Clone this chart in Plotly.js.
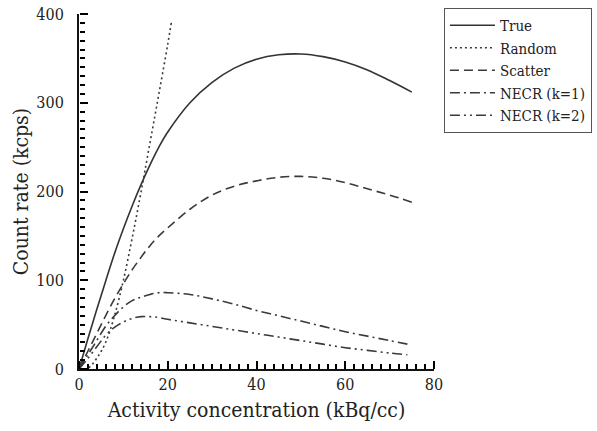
<!DOCTYPE html>
<html>
<head>
<meta charset="utf-8">
<script src="https://cdn.plot.ly/plotly-3.0.1.min.js"></script>
<style>html,body{margin:0;padding:0;background:#fff;}#chart{width:597px;height:431px;}</style>
</head>
<body>
<div id="chart"></div>
<script>
// Activity concentration (kBq/cc)
const xMain = [0,2,4,6,8,10,12,14,16,18,20,25,30,35,40,45,50,55,60,65,70,75];
const trueRate = [0,34,67,99,130,158,184,208,230,250,267,300,323,339,349,354,355,352,346,337,325,312];
const scatterRate = [0,20,40,60,79,96,112,126,139,150,159,180,196,206,212,216,217,215,210,203,196,188];

const xRandom = [0,2,4,6,8,10,12,14,16,18,20,20.8];
const randomRate = [0,1,12,30,60,100,148,200,255,310,366,390];

const xNecr = [0,2,4,6,8,10,12,14,16,18,20,25,30,35,40,45,50,55,60,65,70,74];
const necrK1 = [0,16,32,48,60,70,77,81,84,86,86,84,79,73,66,60,54,48,42,37,32,28];
const necrK2 = [0,12,25,38,47,53,57,59,59,58,56,52,48,44,40,36,32,28,24,21,18,16];

const seriesNames = ["True","Random","Scatter","NECR (k=1)","NECR (k=2)"];

const lc = "#3a3a3a";
const traces = [
  {x:xMain, y:trueRate, name:seriesNames[0], xaxis:"x2", yaxis:"y2", line:{color:"#333", width:1.6, dash:"solid", shape:"spline"}},
  {x:xRandom, y:randomRate, name:seriesNames[1], line:{color:lc, width:1.6, dash:"2px,3px", shape:"spline"}},
  {x:xMain, y:scatterRate, name:seriesNames[2], line:{color:lc, width:1.6, dash:"9px,5px", shape:"spline"}},
  {x:xNecr, y:necrK1, name:seriesNames[3], line:{color:lc, width:1.6, dash:"10px,4px,2px,4px", shape:"spline"}},
  {x:xNecr, y:necrK2, name:seriesNames[4], line:{color:lc, width:1.6, dash:"10px,4px,2px,4px,2px,4px", shape:"spline"}}
].map(t => Object.assign({type:"scatter", mode:"lines", hoverinfo:"skip"}, t));

const fam = "DejaVu Serif Condensed";
const tickCol = "#000000";
const layout = {
  width:597, height:431,
  margin:{l:79, r:163, t:14, b:62, autoexpand:false},
  paper_bgcolor:"#fff", plot_bgcolor:"rgba(0,0,0,0)",
  font:{family:fam, color:"#222", size:17},
  showlegend:true,
  legend:{
    x:1.028, y:1.017, xanchor:"left", yanchor:"top",
    bordercolor:"#555", borderwidth:1, bgcolor:"#fff",
    font:{family:fam, color:"#222", size:15},
    itemwidth:45, tracegroupgap:0, traceorder:"normal"
  },
  xaxis:{
    range:[0,80], tickmode:"linear", tick0:0, dtick:20,
    showgrid:false, zeroline:false, showline:true, linecolor:"#111", linewidth:2,
    ticks:"",
    tickfont:{family:fam, color:"#222", size:16},
    title:{text:"Activity concentration (kBq/cc)", font:{family:fam, color:"#222", size:21}, standoff:9}
  },
  yaxis:{
    range:[0,400], tickmode:"linear", tick0:0, dtick:100,
    showgrid:false, zeroline:false, showline:true, linecolor:"#111", linewidth:2,
    ticks:"",
    tickfont:{family:fam, color:"#222", size:16},
    ticklabelstandoff:10,
    title:{text:"Count rate (kcps)", font:{family:fam, color:"#222", size:21}, standoff:2}
  },
  // tick-only axes placed on the bottom/left edges with ticks pointing into the plot
  xaxis2:{
    overlaying:"x", anchor:"free", position:0, side:"top",
    range:[0,80], tickmode:"linear", tick0:0, dtick:20,
    showgrid:false, zeroline:false, showline:false, showticklabels:false,
    ticks:"outside", ticklen:8, tickwidth:2, tickcolor:tickCol,
    minor:{ticks:"outside", dtick:2, ticklen:5, tickwidth:1.5, tickcolor:tickCol, showgrid:false}
  },
  yaxis2:{
    overlaying:"y", anchor:"free", position:0, side:"right",
    range:[0,400], tickmode:"linear", tick0:0, dtick:100,
    showgrid:false, zeroline:false, showline:false, showticklabels:false,
    ticks:"outside", ticklen:8, tickwidth:2, tickcolor:tickCol,
    minor:{ticks:"outside", dtick:10, ticklen:5, tickwidth:1.5, tickcolor:tickCol, showgrid:false}
  }
};
Plotly.newPlot("chart", traces, layout, {displayModeBar:false});
</script>
</body>
</html>
